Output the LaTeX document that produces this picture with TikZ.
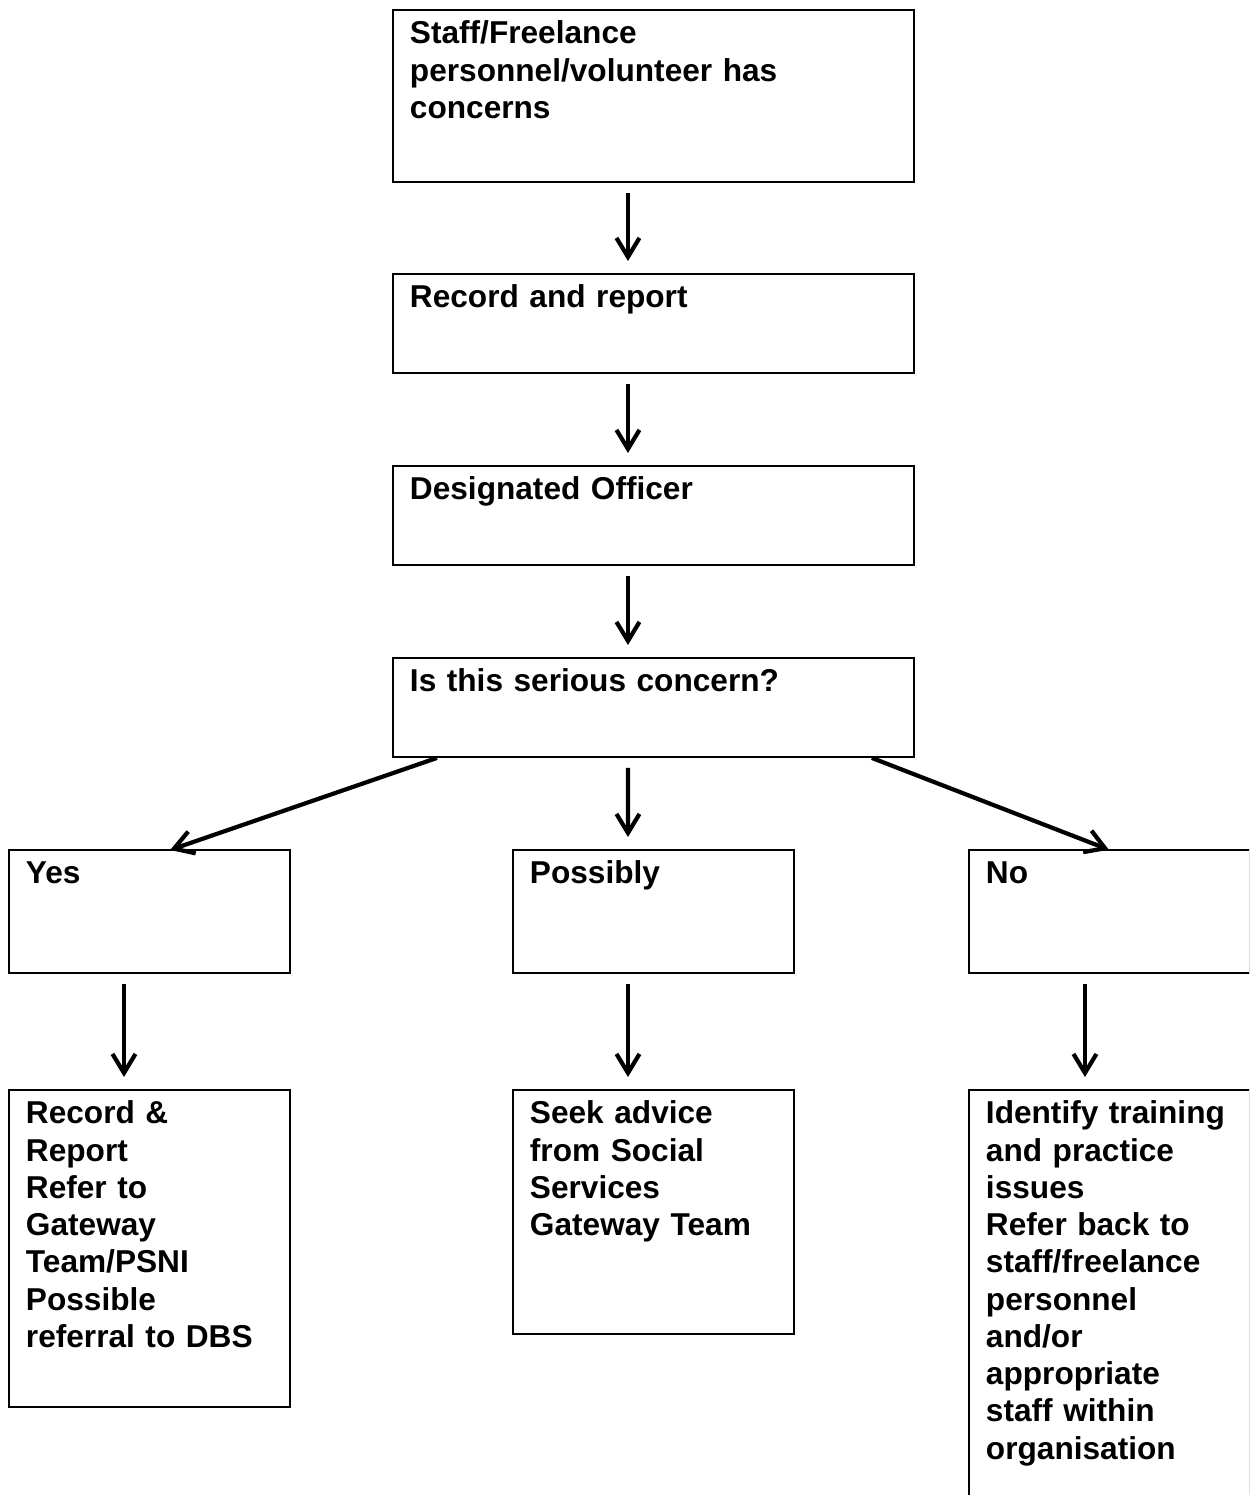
\documentclass[tikz,border=0pt]{standalone}
\usepackage{fontspec}
\setmainfont{Liberation Sans}
\usetikzlibrary{arrows.meta}
\begin{document}
\begin{tikzpicture}[x=0.02cm, y=-0.02cm,
        box/.style={draw, line width=1.1pt, anchor=north west, inner xsep=0.34cm, inner ysep=0pt, align=left, text height=0.68cm, font=\bfseries\fontsize{18}{21.2}\selectfont},
        wide/.style={box, text width=9.74cm},
        narrow/.style={box, text width=4.94cm},
        flow/.style={->, line width=2.4pt, shorten <=0.2cm, shorten >=0.24cm},
        >={Straight Barb[length=0.38cm, width=0.46cm]}]
        \useasboundingbox (0,0) rectangle (1249,1495);
        \clip (0,0) rectangle (1249,1495);
        \node[wide, text depth=2.76cm] (concern) at (392,9) {Staff/Freelance\\personnel/volunteer has\\concerns};
        \node[wide, text depth=1.30cm] (record) at (392,273) {Record and report};
        \node[wide, text depth=1.30cm] (officer) at (392,465) {Designated Officer};
        \node[wide, text depth=1.30cm] (serious) at (392,657) {Is this serious concern?};
        \node[narrow, text depth=1.78cm] (yes) at (8,849) {Yes};
        \node[narrow, text depth=1.78cm] (possibly) at (512,849) {Possibly};
        \node[narrow, text depth=1.78cm] (no) at (968,849) {No};
        \node[narrow, text depth=5.66cm] (yesnext) at (8,1089) {Record \&\\Report\\Refer to\\Gateway\\Team/PSNI\\Possible\\referral to DBS};
        \node[narrow, text depth=4.20cm] (possiblynext) at (512,1089) {Seek advice\\from Social\\Services\\Gateway Team};
        \node[narrow, text depth=7.92cm] (nonext) at (968,1089) {Identify training\\and practice\\issues\\Refer back to\\staff/freelance\\personnel\\and/or\\appropriate\\staff within\\organisation};
        \draw[flow] ([xshift=4.72cm]concern.south west) -- ([xshift=4.72cm]record.north west);
        \draw[flow] ([xshift=4.72cm]record.south west) -- ([xshift=4.72cm]officer.north west);
        \draw[flow] ([xshift=4.72cm]officer.south west) -- ([xshift=4.72cm]serious.north west);
        \draw[flow] ([xshift=4.72cm]serious.south west) -- ([xshift=2.32cm]possibly.north west);
        \draw[flow, shorten <=0pt, shorten >=-0.06cm] ([xshift=0.9cm]serious.south west) -- ([xshift=3.3cm]yes.north west);
        \draw[flow, shorten <=0pt, shorten >=-0.04cm] ([xshift=-0.86cm]serious.south east) -- ([xshift=2.78cm]no.north west);
        \draw[flow] ([xshift=2.32cm]yes.south west) -- ([xshift=2.32cm]yesnext.north west);
        \draw[flow] ([xshift=2.32cm]possibly.south west) -- ([xshift=2.32cm]possiblynext.north west);
        \draw[flow] ([xshift=2.34cm]no.south west) -- ([xshift=2.34cm]nonext.north west);
    \end{tikzpicture}
\end{document}
